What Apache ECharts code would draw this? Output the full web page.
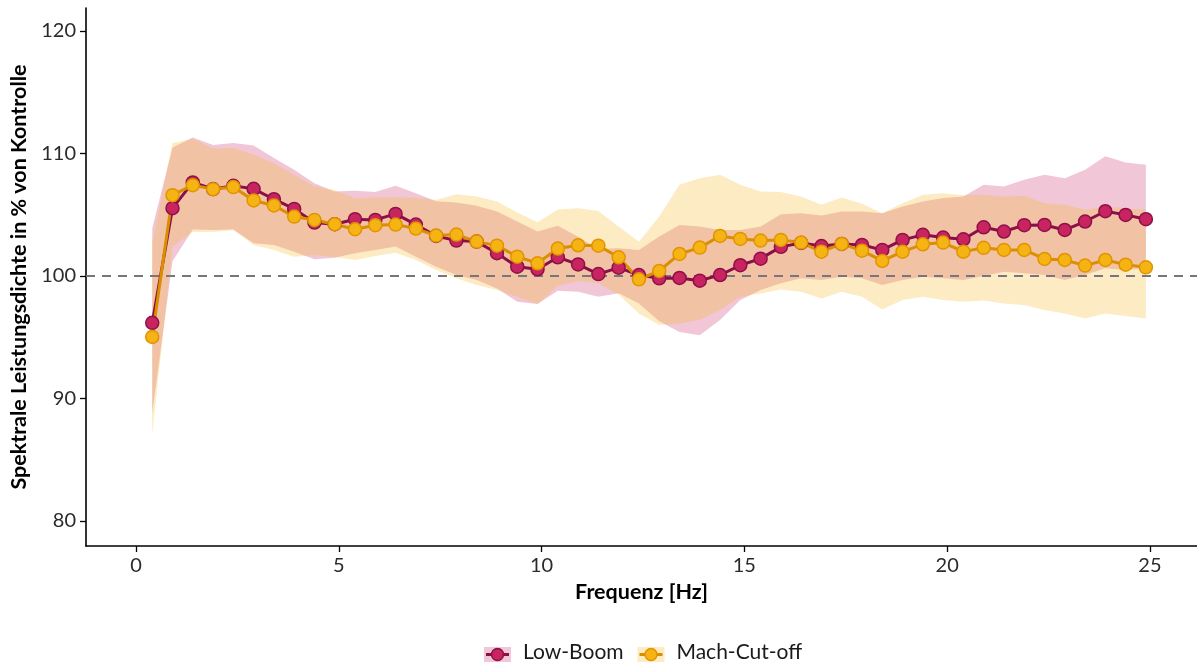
<!DOCTYPE html>
<html>
<head>
<meta charset="utf-8">
<script src="https://cdn.jsdelivr.net/npm/echarts@6/dist/echarts.min.js"></script>
<style>
  html, body { margin: 0; padding: 0; background: #ffffff; }
  #chart { width: 1197px; height: 662px; }
</style>
</head>
<body>
<div id="chart"></div>
<script>
// Frequency bins (Hz)
const freqHz = [0.4, 0.9, 1.4, 1.9, 2.4, 2.9, 3.4, 3.9, 4.4, 4.9,
  5.4, 5.9, 6.4, 6.9, 7.4, 7.9, 8.4, 8.9, 9.4, 9.9,
  10.4, 10.9, 11.4, 11.9, 12.4, 12.9, 13.4, 13.9, 14.4, 14.9,
  15.4, 15.9, 16.4, 16.9, 17.4, 17.9, 18.4, 18.9, 19.4, 19.9,
  20.4, 20.9, 21.4, 21.9, 22.4, 22.9, 23.4, 23.9, 24.4, 24.9];

// Low-Boom: mean and band (% of control)
const lowBoomMean = [96.18, 105.54, 107.64, 107.1, 107.36, 107.12, 106.27, 105.48, 104.36, 104.23,
  104.64, 104.58, 105.07, 104.2, 103.27, 102.89, 102.81, 101.86, 100.76, 100.55,
  101.53, 100.95, 100.16, 100.68, 100.08, 99.81, 99.84, 99.62, 100.08, 100.88,
  101.42, 102.38, 102.7, 102.45, 102.62, 102.54, 102.13, 102.95, 103.36, 103.14,
  103.0, 103.98, 103.63, 104.15, 104.17, 103.76, 104.45, 105.29, 104.99, 104.64];
const lowBoomLower = [88.8, 101.2, 103.8, 103.76, 103.8, 102.67, 102.54, 101.99, 101.37, 101.5,
  101.86, 102.13, 102.4, 101.58, 100.76, 100.08, 99.67, 98.99, 97.9, 97.71,
  98.8, 98.72, 98.31, 98.6, 97.76, 96.3, 95.44, 95.17, 96.4, 98.04,
  98.85, 99.4, 99.81, 99.67, 99.95, 99.81, 99.26, 99.67, 99.95, 99.81,
  99.67, 100.0, 100.35, 100.22, 100.08, 99.67, 100.08, 100.63, 100.49, 100.63];
const lowBoomUpper = [103.9, 110.5, 111.3, 110.7, 110.86, 110.66, 109.63, 108.67, 107.58, 106.9,
  106.96, 106.85, 107.36, 106.76, 106.1, 106.0, 105.73, 105.26, 104.45, 103.63,
  104.1, 103.2, 102.2, 102.26, 102.13, 103.22, 104.17, 104.04, 103.76, 103.76,
  104.04, 105.05, 105.13, 104.95, 105.26, 105.26, 105.13, 105.67, 106.08, 106.36,
  106.5, 107.45, 107.31, 107.86, 108.27, 107.99, 108.67, 109.77, 109.27, 109.08];

// Mach-Cut-off: mean and band (% of control)
const machMean = [95.03, 106.6, 107.42, 107.09, 107.26, 106.17, 105.76, 104.85, 104.58, 104.23,
  103.82, 104.15, 104.2, 103.87, 103.3, 103.38, 102.81, 102.48, 101.58, 101.04,
  102.24, 102.51, 102.48, 101.53, 99.73, 100.41, 101.8, 102.32, 103.27, 103.03,
  102.89, 102.95, 102.73, 101.99, 102.62, 102.07, 101.23, 101.99, 102.59, 102.73,
  101.99, 102.3, 102.13, 102.13, 101.39, 101.31, 100.85, 101.31, 100.93, 100.71];
const machLower = [87.1, 102.4, 103.6, 103.6, 103.75, 102.54, 102.13, 101.58, 101.72, 101.55,
  101.31, 101.64, 101.9, 101.31, 100.49, 99.81, 99.26, 98.85, 98.3, 97.71,
  99.2, 99.6, 99.4, 98.5, 96.95, 96.0, 96.13, 96.4, 97.22, 98.31,
  98.58, 98.9, 98.72, 98.17, 98.72, 98.31, 97.27, 98.04, 98.31, 98.04,
  97.9, 98.0, 97.76, 97.63, 97.22, 96.95, 96.54, 96.95, 96.73, 96.54];
const machUpper = [102.7, 110.86, 111.2, 110.4, 110.45, 109.9, 109.2, 108.26, 107.3, 107.0,
  106.36, 106.41, 106.44, 106.36, 106.2, 106.68, 106.49, 106.08, 105.18, 104.39,
  105.43, 105.54, 105.3, 104.04, 102.8, 104.86, 107.45, 107.99, 108.27, 107.45,
  106.9, 106.85, 106.49, 105.81, 106.4, 105.9, 105.13, 105.95, 106.63, 106.76,
  106.6, 106.63, 106.49, 106.55, 105.95, 105.81, 105.4, 105.67, 105.54, 105.4];

// Axis ticks and reference level
const xTicks = [0, 5, 10, 15, 20, 25];
const yTicks = [80, 90, 100, 110, 120];
const referenceLevel = 100;

const groups = [
  { name: 'Low-Boom', mean: lowBoomMean, lower: lowBoomLower, upper: lowBoomUpper,
    band: 'rgba(200, 30, 95, 0.25)', line: '#8b0e46', fill: '#c8245f', edge: '#8f1049' },
  { name: 'Mach-Cut-off', mean: machMean, lower: machLower, upper: machUpper,
    band: 'rgba(246, 181, 15, 0.25)', line: '#db8e00', fill: '#f6b414', edge: '#e09400' }
];

const FONT = 'Lato';

// Ribbon between lower and upper bound, drawn as one polygon through the axes
function bandSeries(g) {
  return {
    type: 'custom',
    name: g.name + ' band',
    silent: true,
    z: 1,
    data: freqHz.map((f, i) => [f, g.lower[i], g.upper[i]]),
    encode: { x: 0, y: [1, 2] },
    renderItem(params, api) {
      if (params.dataIndex !== 0) return null;
      const top = freqHz.map((f, i) => api.coord([f, g.upper[i]]));
      const bottom = freqHz.map((f, i) => api.coord([f, g.lower[i]])).reverse();
      return {
        type: 'polygon',
        shape: { points: top.concat(bottom) },
        style: { fill: g.band }
      };
    }
  };
}

function meanSeries(g) {
  return {
    type: 'line',
    name: g.name,
    z: 10,
    data: freqHz.map((f, i) => [f, g.mean[i]]),
    symbol: 'circle',
    symbolSize: 13,
    lineStyle: { color: g.line, width: 3 },
    itemStyle: { color: g.fill, borderColor: g.edge, borderWidth: 1.5 },
    emphasis: { disabled: true },
    animation: false
  };
}

// Legend keys: band swatch, line and point, then the label
function legendEntry(g, x) {
  return {
    type: 'group',
    x: x, y: 647,
    children: [
      { type: 'rect', shape: { x: 0, y: 0, width: 27, height: 27 }, style: { fill: g.band } },
      { type: 'line', shape: { x1: 2, y1: 7.5, x2: 25, y2: 7.5 }, style: { stroke: g.line, lineWidth: 3 } },
      { type: 'circle', shape: { cx: 13.5, cy: 7.5, r: 6 }, style: { fill: g.fill, stroke: g.edge, lineWidth: 1.5 } },
      { type: 'text', x: 39, y: 5, style: { text: g.name, font: '21px ' + FONT, fill: '#1a1a1a', verticalAlign: 'middle' } }
    ]
  };
}

const chart = echarts.init(document.getElementById('chart'), null, { renderer: 'canvas' });

chart.setOption({
  animation: false,
  backgroundColor: '#ffffff',
  grid: { left: 86, right: 0, top: 8, bottom: 116, containLabel: false },
  xAxis: {
    type: 'value',
    min: -1.233,
    max: 26.16,
    name: 'Frequenz [Hz]',
    nameLocation: 'middle',
    nameGap: 34,
    nameTextStyle: { fontFamily: FONT, fontWeight: 'bold', fontSize: 21.5, color: '#000' },
    axisLine: { show: true, onZero: false, lineStyle: { color: '#000', width: 1.6 } },
    axisTick: { show: true, length: 6, customValues: xTicks, lineStyle: { color: '#000', width: 1.3 } },
    axisLabel: { customValues: xTicks, margin: 10, fontFamily: FONT, fontSize: 20, color: '#2b2b2b' },
    splitLine: { show: false }
  },
  yAxis: {
    type: 'value',
    min: 77.96,
    max: 121.88,
    name: 'Spektrale Leistungsdichte in % von Kontrolle',
    nameLocation: 'middle',
    nameGap: 49,
    nameRotate: 90,
    nameTextStyle: { fontFamily: FONT, fontWeight: 'bold', fontSize: 21.5, color: '#000' },
    axisLine: { show: true, onZero: false, lineStyle: { color: '#000', width: 1.6 } },
    axisTick: { show: true, length: 6, customValues: yTicks, lineStyle: { color: '#000', width: 1.3 } },
    axisLabel: { customValues: yTicks, margin: 10, fontFamily: FONT, fontSize: 20, color: '#2b2b2b' },
    splitLine: { show: false }
  },
  series: [
    bandSeries(groups[0]),
    Object.assign(bandSeries(groups[1]), {
      markLine: {
        silent: true,
        symbol: ['none', 'none'],
        label: { show: false },
        lineStyle: { color: '#777777', width: 2, type: [9, 7] },
        data: [{ yAxis: referenceLevel }]
      }
    }),
    meanSeries(groups[0]),
    meanSeries(groups[1])
  ],
  graphic: [legendEntry(groups[0], 484), legendEntry(groups[1], 637.5)]
});
</script>
</body>
</html>
